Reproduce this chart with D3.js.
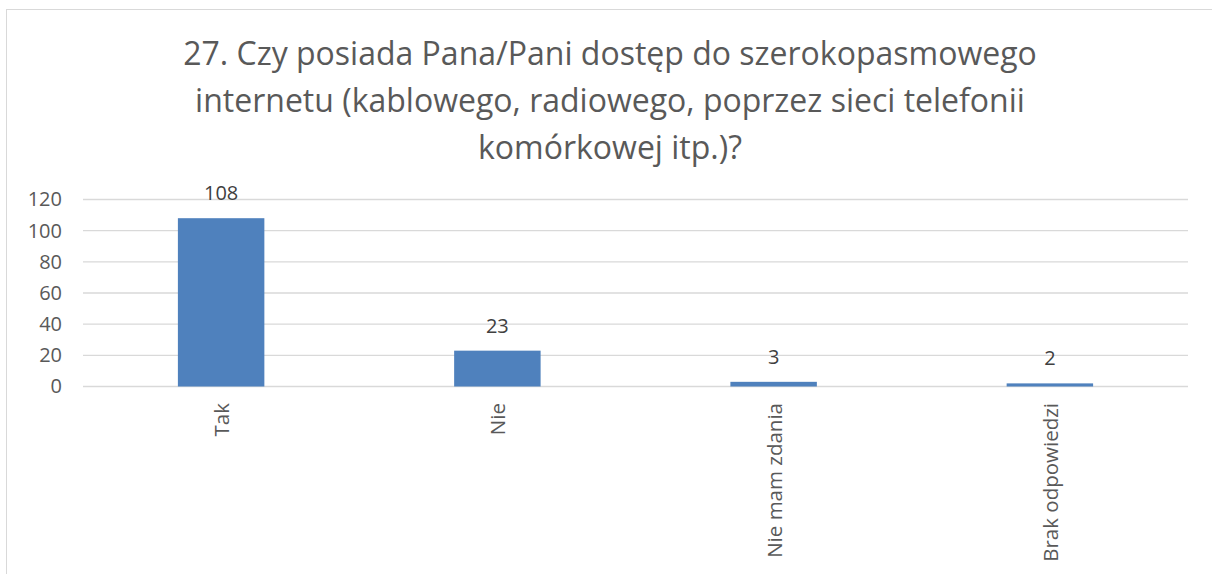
<!DOCTYPE html>
<html>
<head>
<meta charset="utf-8">
<script src="https://cdn.jsdelivr.net/npm/d3@7"></script>
<style>
  body { margin: 0; background: #fff; }
  text { font-family: "Open Sans", "Liberation Sans", sans-serif; }
</style>
</head>
<body>
<div id="chart"></div>
<script>
// data
var categories = ['Tak', 'Nie', 'Nie mam zdania', 'Brak odpowiedzi'];
var values = [108, 23, 3, 2];
var y_ticks = [0, 20, 40, 60, 80, 100, 120];
var title_lines = [
  '27. Czy posiada Pana/Pani dostęp do szerokopasmowego',
  'internetu (kablowego, radiowego, poprzez sieci telefonii',
  'komórkowej itp.)?'
];

var chart_width = 1212;
var chart_height = 574;
var svg = d3
  .select('#chart')
  .append('svg')
  .attr('width', chart_width)
  .attr('height', chart_height);

// outer border
svg.append('rect')
  .attr('x', 6.5).attr('y', 9.5)
  .attr('width', 1220).attr('height', 580)
  .attr('fill', 'none')
  .attr('stroke', '#d9d9d9');

// title
svg.append('g')
  .selectAll('text')
  .data(title_lines)
  .enter()
  .append('text')
  .attr('x', 610)
  .attr('y', function(d, i) { return 65 + i * 47; })
  .attr('text-anchor', 'middle')
  .attr('font-size', 32)
  .attr('fill', '#595959')
  .text(function(d) { return d; });

// scales
var plot_left = 83, plot_right = 1188;
var x_scale = d3.scaleBand()
  .domain(categories)
  .range([plot_left, plot_right])
  .paddingInner(0.687)
  .paddingOuter(0.3435);
var y_scale = d3.scaleLinear()
  .domain([0, 120])
  .range([386.5, 199.5]);

// gridlines
svg.append('g')
  .selectAll('line')
  .data(y_ticks)
  .enter()
  .append('line')
  .attr('x1', plot_left).attr('x2', plot_right)
  .attr('y1', function(d) { return y_scale(d); })
  .attr('y2', function(d) { return y_scale(d); })
  .attr('stroke', '#d9d9d9')
  .attr('stroke-width', 1.3);

// y axis labels
var y_axis = d3.axisLeft(y_scale).tickValues(y_ticks).tickSize(0).tickPadding(21);
var yg = svg.append('g')
  .attr('transform', 'translate(' + plot_left + ',0)')
  .call(y_axis);
yg.select('.domain').remove();
yg.selectAll('text')
  .attr('font-size', 20)
  .attr('fill', '#595959')
  .style('font-family', '"Open Sans", "Liberation Sans", sans-serif');

// bars
svg.append('g')
  .selectAll('rect')
  .data(values)
  .enter()
  .append('rect')
  .attr('x', function(d, i) { return x_scale(categories[i]); })
  .attr('y', function(d) { return y_scale(d); })
  .attr('width', x_scale.bandwidth())
  .attr('height', function(d) { return y_scale(0) - y_scale(d); })
  .attr('fill', '#4f81bd');

// value labels
svg.append('g')
  .selectAll('text')
  .data(values)
  .enter()
  .append('text')
  .attr('x', function(d, i) { return x_scale(categories[i]) + x_scale.bandwidth() / 2; })
  .attr('y', function(d) { return y_scale(d) - 18; })
  .attr('text-anchor', 'middle')
  .attr('font-size', 20)
  .attr('fill', '#404040')
  .text(function(d) { return d; });

// category labels (rotated)
svg.append('g')
  .selectAll('text')
  .data(categories)
  .enter()
  .append('text')
  .attr('transform', function(d) {
    var cx = x_scale(d) + x_scale.bandwidth() / 2;
    return 'translate(' + (cx + 8) + ',403) rotate(-90)';
  })
  .attr('text-anchor', 'end')
  .attr('font-size', 20.5)
  .attr('fill', '#595959')
  .text(function(d) { return d; });
</script>
</body>
</html>
